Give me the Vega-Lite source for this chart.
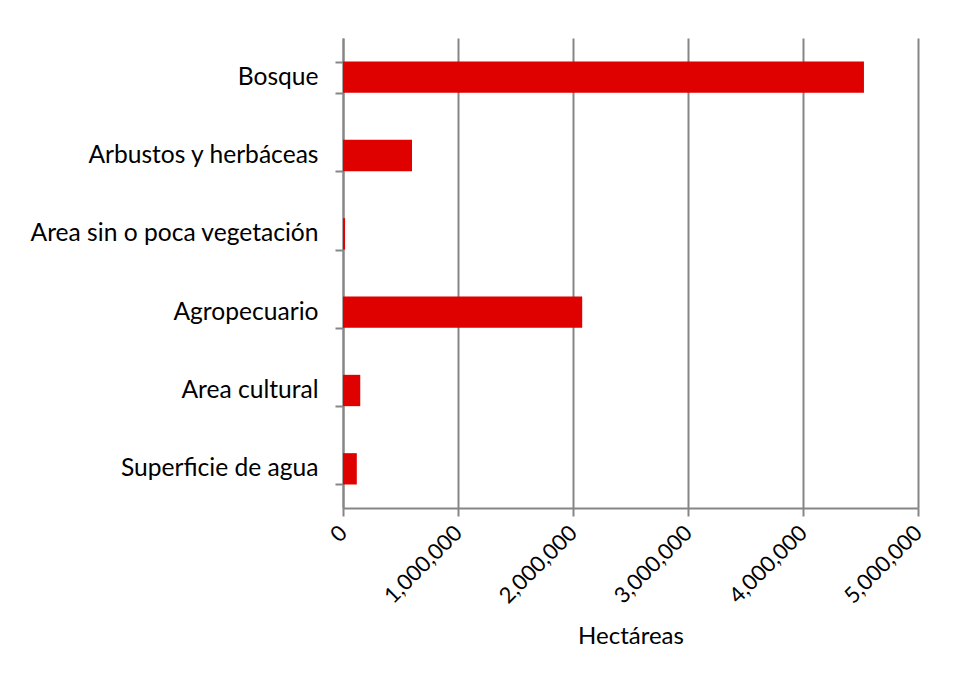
{
  "$schema": "https://vega.github.io/schema/vega-lite/v6.json",
  "autosize": {"type": "none"},
  "width": 575,
  "height": 470,
  "padding": {"left": 343, "top": 38, "right": 43, "bottom": 169},
  "background": "white",
  "config": {
    "view": {"stroke": null},
    "font": "Lato"
  },
  "data": {
    "values": [
      {"categoria": "Bosque", "hectareas": 4530000},
      {"categoria": "Arbustos y herbáceas", "hectareas": 600000},
      {"categoria": "Area sin o poca vegetación", "hectareas": 18000},
      {"categoria": "Agropecuario", "hectareas": 2080000},
      {"categoria": "Area cultural", "hectareas": 150000},
      {"categoria": "Superficie de agua", "hectareas": 120000}
    ]
  },
  "mark": {"type": "bar", "color": "#DF0000"},
  "encoding": {
    "y": {
      "field": "categoria",
      "type": "nominal",
      "sort": null,
      "scale": {"paddingInner": 0.6, "paddingOuter": 0.3},
      "axis": {
        "title": null,
        "domainColor": "#868686",
        "domainWidth": 2,
        "tickColor": "#868686",
        "tickWidth": 2,
        "tickSize": 8,
        "tickBand": "extent",
        "labelPadding": 17,
        "labelFontSize": 24.6,
        "labelLimit": 0,
        "labelColor": "#000000",
        "labelFont": "Lato"
      }
    },
    "x": {
      "field": "hectareas",
      "type": "quantitative",
      "scale": {"domain": [0, 5000000], "nice": false},
      "axis": {
        "title": "Hectáreas",
        "titleFontSize": 24,
        "titleFontWeight": "normal",
        "titleColor": "#000000",
        "titleFont": "Lato",
        "titlePadding": 18,
        "values": [0, 1000000, 2000000, 3000000, 4000000, 5000000],
        "format": ",d",
        "labelAngle": -45,
        "labelAlign": "right",
        "labelBaseline": "middle",
        "labelPadding": 13,
        "labelFontSize": 22,
        "labelColor": "#000000",
        "labelFont": "Lato",
        "labelOverlap": false,
        "labelFlush": false,
        "labelLimit": 0,
        "domainColor": "#868686",
        "domainWidth": 2,
        "tickColor": "#868686",
        "tickWidth": 2,
        "tickSize": 8,
        "grid": true,
        "gridColor": "#868686",
        "gridWidth": 2
      }
    }
  }
}
